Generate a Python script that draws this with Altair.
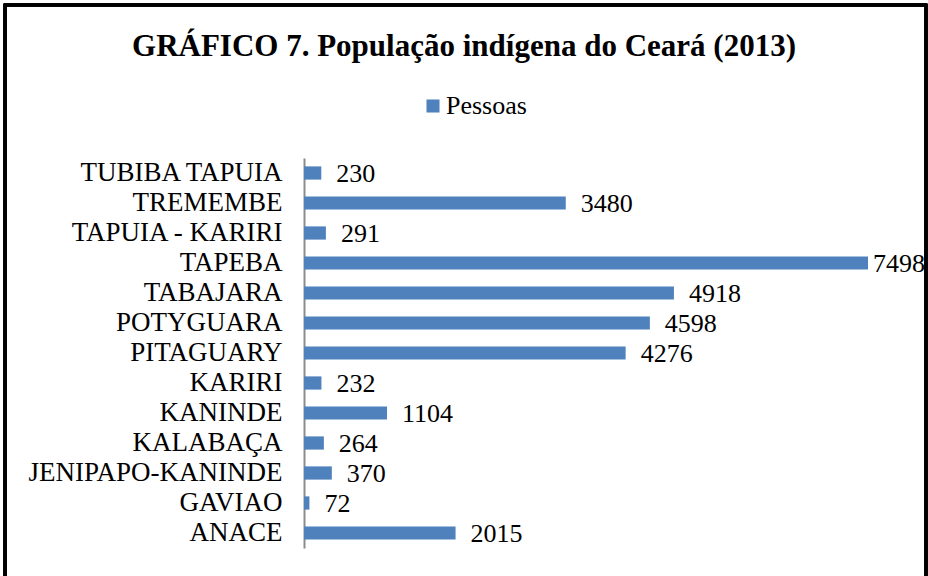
import altair as alt
import pandas as pd

categories = ["TUBIBA TAPUIA", "TREMEMBE", "TAPUIA - KARIRI", "TAPEBA", "TABAJARA",
              "POTYGUARA", "PITAGUARY", "KARIRI", "KANINDE", "KALABAÇA",
              "JENIPAPO-KANINDE", "GAVIAO", "ANACE"]
values = [230, 3480, 291, 7498, 4918, 4598, 4276, 232, 1104, 264, 370, 72, 2015]
series = "Pessoas"
title_text = "GRÁFICO 7. População indígena do Ceará (2013)"

df = pd.DataFrame({"grupo": categories, "pessoas": values, "serie": [series] * len(categories)})
vmax = max(values)

FONT = "Liberation Serif, Times New Roman, serif"

y_enc = alt.Y("grupo:N", sort=categories, title=None,
              scale=alt.Scale(paddingInner=0.56, paddingOuter=0.28),
              axis=alt.Axis(ticks=False, domainColor="#8c8c8c", domainWidth=2,
                            labelFont=FONT, labelFontSize=27, labelColor="black",
                            labelPadding=22, labelLimit=400))
x_enc = alt.X("pessoas:Q", title=None, scale=alt.Scale(domain=[0, vmax], nice=False, zero=True),
              axis=None)

bars = alt.Chart(df).mark_bar(color="#4F81BD").encode(
    y=y_enc, x=x_enc,
    color=alt.Color("serie:N", scale=alt.Scale(range=["#4F81BD"]),
                    legend=alt.Legend(title=None, orient="none", legendX=116, legendY=-65,
                                      symbolType="square", symbolSize=170,
                                      labelFont=FONT, labelFontSize=26, labelColor="black",
                                      labelOffset=0, symbolStrokeWidth=0))
)

labels = alt.Chart(df).mark_text(align="left", baseline="middle", dx=15, dy=1,
                                 font=FONT, fontSize=26, color="black").encode(
    y=alt.Y("grupo:N", sort=categories), x="pessoas:Q", text="pessoas:Q"
).transform_filter(alt.datum.pessoas < vmax)

labels_max = alt.Chart(df).mark_text(align="left", baseline="middle", dx=5, dy=1,
                                     font=FONT, fontSize=26, color="black").encode(
    y=alt.Y("grupo:N", sort=categories), x="pessoas:Q", text="pessoas:Q"
).transform_filter(alt.datum.pessoas == vmax)

frame = alt.Chart(df).mark_rect(fill=None, stroke="black", strokeWidth=2.5).encode(
    x=alt.value(-299), x2=alt.value(622), y=alt.value(-153), y2=alt.value(460)
)

title = alt.Chart(pd.DataFrame({"t": [title_text]})).mark_text(
    font=FONT, fontSize=31, fontWeight="bold", color="black", align="center", baseline="alphabetic"
).encode(x=alt.value(160), y=alt.value(-102), text="t:N")

chart = alt.layer(frame, bars, labels, labels_max, title).properties(
    width=564, height=390,
    autosize=alt.AutoSizeParams(type="none"),
    padding={"left": 304, "top": 158, "right": 60, "bottom": 28},
).configure_view(stroke=None)

chart.save("out.html", embed_options={"renderer": "svg", "actions": False})
